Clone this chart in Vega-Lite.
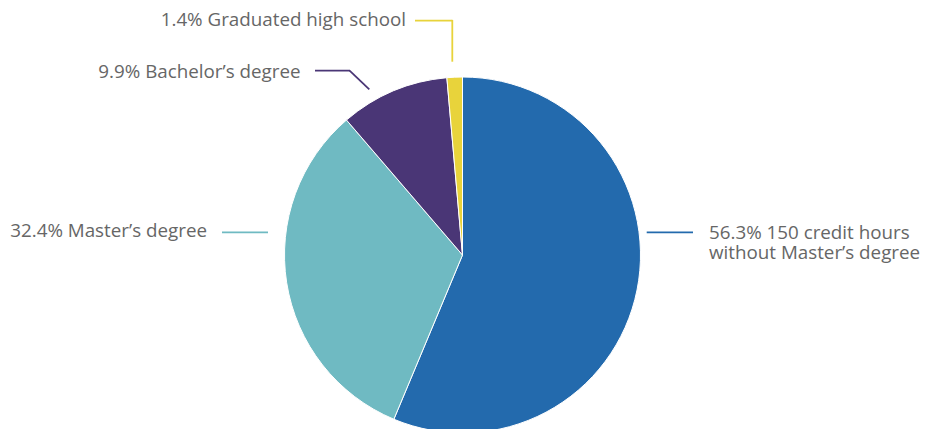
{
  "$schema": "https://vega.github.io/schema/vega-lite/v6.json",
  "width": 925,
  "height": 510,
  "autosize": {"type": "none"},
  "padding": 0,
  "background": "white",
  "config": {"view": {"stroke": null}},
  "data": {
    "values": [
      {"category": "150 credit hours without Master’s degree", "pct": 56.3},
      {"category": "Master’s degree", "pct": 32.4},
      {"category": "Bachelor’s degree", "pct": 9.9},
      {"category": "Graduated high school", "pct": 1.4}
    ]
  },
  "transform": [
    {"calculate": "replace(format(datum.pct, '.1f') + '% ' + datum.category, ' without', '\\nwithout')", "as": "label"}
  ],
  "layer": [
    {
      "mark": {"type": "arc", "outerRadius": 178, "stroke": "white", "strokeWidth": 1},
      "encoding": {
        "theta": {"field": "pct", "type": "quantitative", "stack": true},
        "color": {
          "field": "category", "type": "nominal", "legend": null,
          "scale": {
            "domain": ["150 credit hours without Master’s degree", "Master’s degree", "Bachelor’s degree", "Graduated high school"],
            "range": ["#236aad", "#6fbac2", "#4a3676", "#e8d33b"]
          }
        },
        "order": {"field": "pct", "type": "quantitative", "sort": "descending"}
      }
    },
    {
      "transform": [{"filter": "datum.category === 'Graduated high school'"}],
      "mark": {"type": "rule", "color": "#e8d33b", "strokeWidth": 1.8},
      "encoding": {
        "x": {"datum": -47.5, "type": "quantitative", "scale": {"domain": [-462.5, 462.5], "nice": false, "zero": false}, "axis": null},
        "x2": {"datum": -10.2},
        "y": {"datum": 234.3, "type": "quantitative", "scale": {"domain": [-255, 255], "nice": false, "zero": false}, "axis": null},
        "y2": {"datum": 234.3}
      }
    },
    {
      "transform": [{"filter": "datum.category === 'Graduated high school'"}],
      "mark": {"type": "rule", "color": "#e8d33b", "strokeWidth": 1.8},
      "encoding": {
        "x": {"datum": -10.2, "type": "quantitative"},
        "x2": {"datum": -10.2},
        "y": {"datum": 235.1, "type": "quantitative"},
        "y2": {"datum": 193.3}
      }
    },
    {
      "transform": [{"filter": "datum.category === 'Bachelor’s degree'"}],
      "mark": {"type": "rule", "color": "#4a3676", "strokeWidth": 1.8},
      "encoding": {
        "x": {"datum": -147.5, "type": "quantitative"},
        "x2": {"datum": -112.5},
        "y": {"datum": 184.3, "type": "quantitative"},
        "y2": {"datum": 184.3}
      }
    },
    {
      "transform": [{"filter": "datum.category === 'Bachelor’s degree'"}],
      "mark": {"type": "rule", "color": "#4a3676", "strokeWidth": 1.8},
      "encoding": {
        "x": {"datum": -112.9, "type": "quantitative"},
        "x2": {"datum": -93.2},
        "y": {"datum": 184.3, "type": "quantitative"},
        "y2": {"datum": 165.7}
      }
    },
    {
      "transform": [{"filter": "datum.category === 'Master’s degree'"}],
      "mark": {"type": "rule", "color": "#6fbac2", "strokeWidth": 1.8},
      "encoding": {
        "x": {"datum": -240.5, "type": "quantitative"},
        "x2": {"datum": -194.5},
        "y": {"datum": 22.7, "type": "quantitative"},
        "y2": {"datum": 22.7}
      }
    },
    {
      "transform": [{"filter": "datum.category === '150 credit hours without Master’s degree'"}],
      "mark": {"type": "rule", "color": "#236aad", "strokeWidth": 1.8},
      "encoding": {
        "x": {"datum": 184.2, "type": "quantitative"},
        "x2": {"datum": 230.5},
        "y": {"datum": 22.7, "type": "quantitative"},
        "y2": {"datum": 22.7}
      }
    },
    {
      "transform": [{"filter": "datum.category === 'Graduated high school'"}],
      "mark": {"type": "text", "align": "right", "baseline": "alphabetic", "font": "Open Sans", "fontSize": 18.8, "color": "#666666"},
      "encoding": {
        "x": {"datum": -56.5, "type": "quantitative"},
        "y": {"datum": 229.3, "type": "quantitative"},
        "text": {"field": "label"}
      }
    },
    {
      "transform": [{"filter": "datum.category === 'Bachelor’s degree'"}],
      "mark": {"type": "text", "align": "right", "baseline": "alphabetic", "font": "Open Sans", "fontSize": 18.8, "color": "#666666"},
      "encoding": {
        "x": {"datum": -162, "type": "quantitative"},
        "y": {"datum": 176.7, "type": "quantitative"},
        "text": {"field": "label"}
      }
    },
    {
      "transform": [{"filter": "datum.category === 'Master’s degree'"}],
      "mark": {"type": "text", "align": "right", "baseline": "alphabetic", "font": "Open Sans", "fontSize": 18.8, "color": "#666666"},
      "encoding": {
        "x": {"datum": -255.5, "type": "quantitative"},
        "y": {"datum": 17.7, "type": "quantitative"},
        "text": {"field": "label"}
      }
    },
    {
      "transform": [{"filter": "datum.category === '150 credit hours without Master’s degree'"}],
      "mark": {"type": "text", "align": "left", "baseline": "alphabetic", "font": "Open Sans", "fontSize": 18.8, "color": "#666666", "lineBreak": "\n", "lineHeight": 19.5},
      "encoding": {
        "x": {"datum": 246.5, "type": "quantitative"},
        "y": {"datum": 15.7, "type": "quantitative"},
        "text": {"field": "label"}
      }
    }
  ]
}
